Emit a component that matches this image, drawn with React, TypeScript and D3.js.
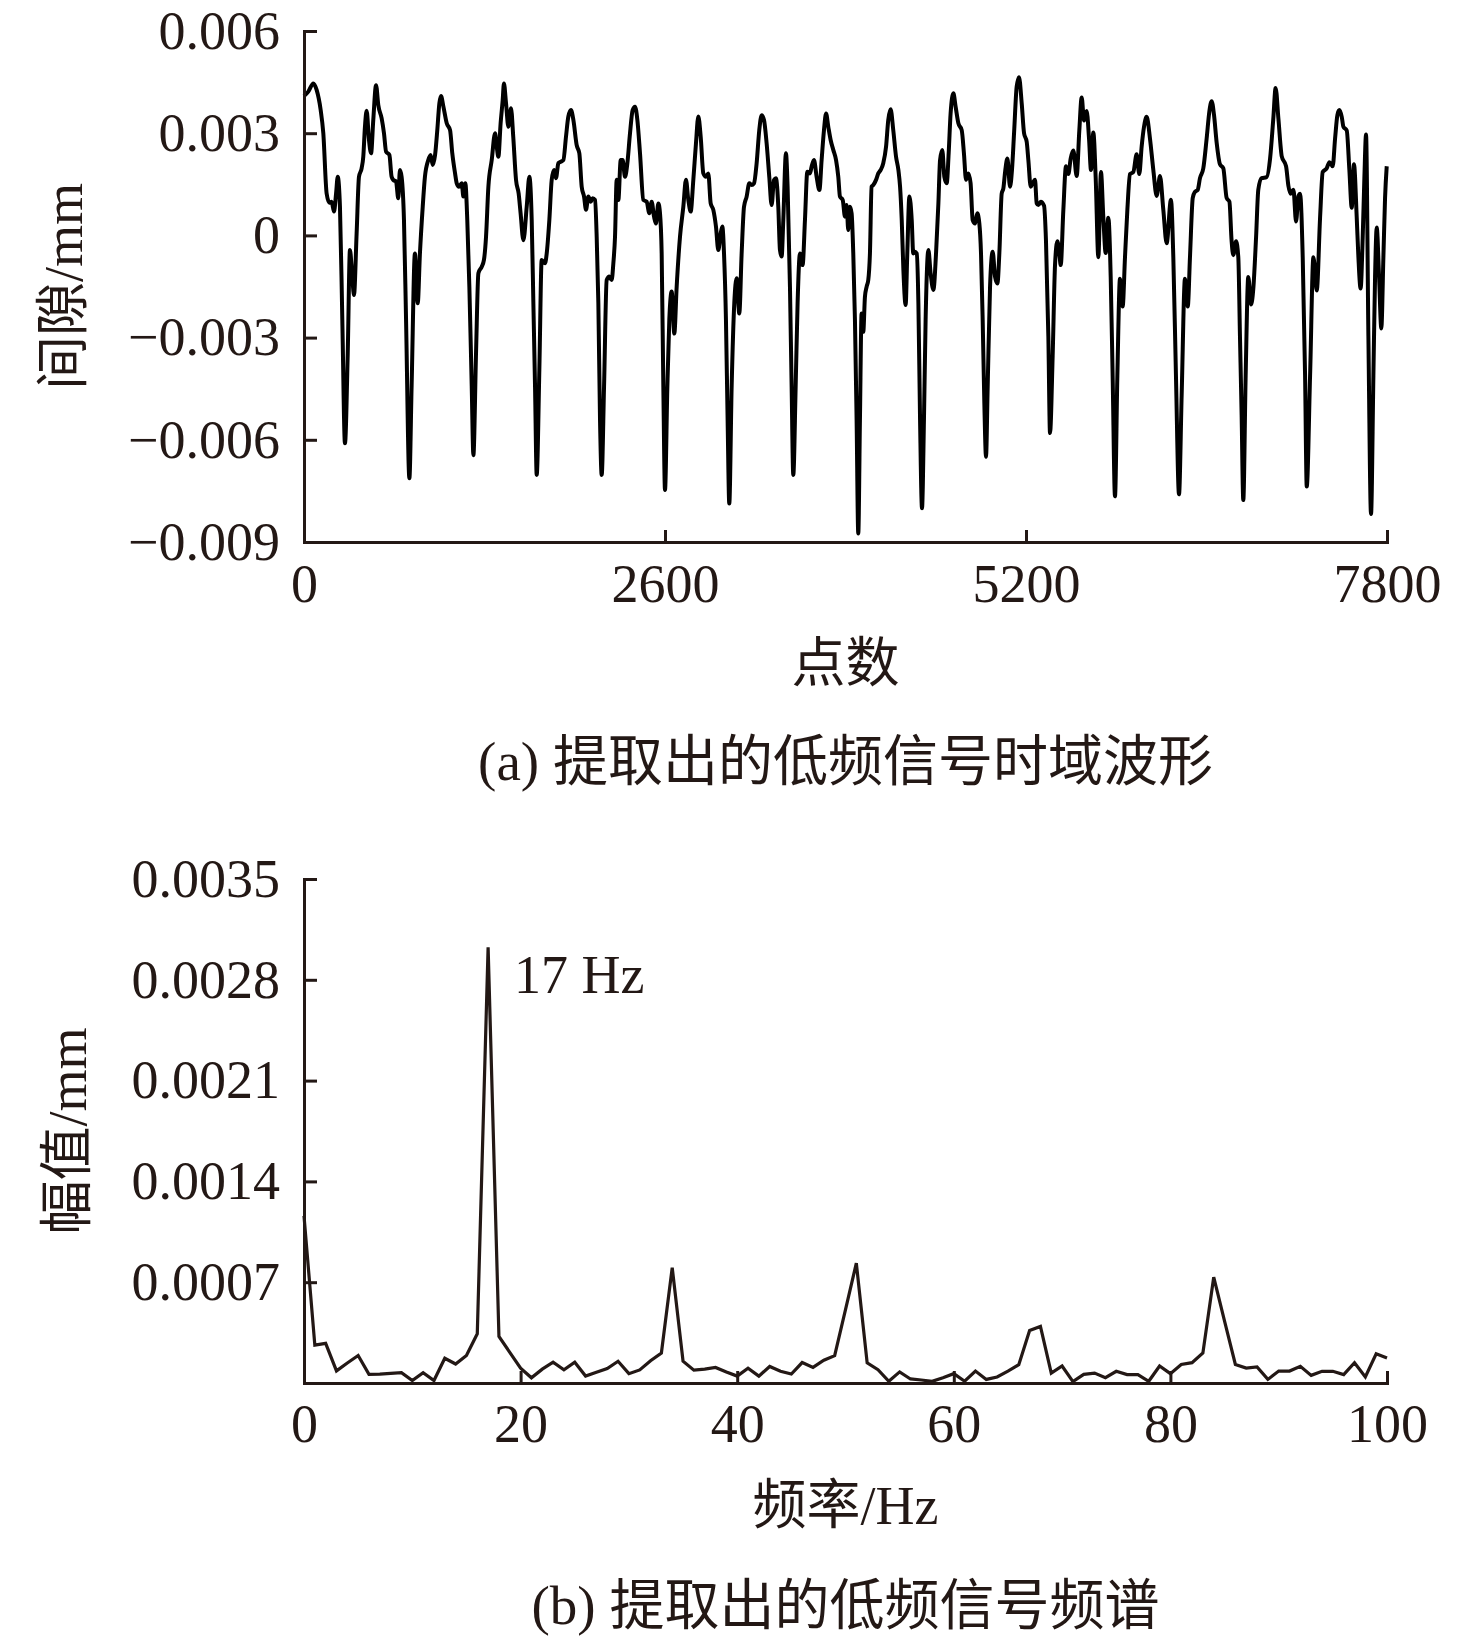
import React, { useEffect, useRef } from "react";
import * as d3 from "d3";

const WIDTH = 1476;
const HEIGHT = 1642;
const INK = "#231815";
const SERIF = '"Liberation Serif", "Times New Roman", "Noto Sans CJK SC", serif';

// (a) extracted low-frequency signal: [sample index, gap in mm]
const gapSeries: [number, number][] = [
  [0, 0.00409], [31, 0.00422], [67, 0.00446], [91, 0.00427], [120, 0.00368], [139, 0.003], [163, 0.00123],
  [183, 0.00096], [199, 0.00099], [216, 0.0007], [231, 0.00123], [243, 0.00172], [259, 0.00084], [276, -0.00248],
  [295, -0.0061], [315, -0.00346], [331, -0.00043], [346, -0.00111], [360, -0.00175], [379, 0.00006], [396, 0.00172],
  [415, 0.00197], [427, 0.00231], [439, 0.00319], [451, 0.00366], [468, 0.0028], [483, 0.00241], [499, 0.00339],
  [519, 0.00441], [535, 0.00383], [559, 0.00344], [576, 0.003], [591, 0.00246], [615, 0.00236], [631, 0.00172],
  [643, 0.00163], [663, 0.00158], [679, 0.00109], [691, 0.00192], [703, 0.00172], [720, 0.00045], [735, -0.00248],
  [759, -0.00713], [775, -0.00444], [799, -0.00053], [819, -0.00199], [835, -0.00053], [855, 0.00084], [871, 0.00172],
  [895, 0.00221], [912, 0.00236], [927, 0.00207], [944, 0.00236], [960, 0.00309], [975, 0.00388], [987, 0.00409],
  [1004, 0.00378], [1028, 0.00329], [1052, 0.00309], [1068, 0.00241], [1088, 0.00182], [1100, 0.00153], [1116, 0.00143],
  [1136, 0.00153], [1148, 0.00114], [1162, 0.00153], [1176, 0.00045], [1191, -0.00151], [1208, -0.00444], [1220, -0.00645],
  [1239, -0.00346], [1256, -0.00111], [1280, -0.00092], [1296, -0.00072], [1311, -0.00004], [1328, 0.00143], [1352, 0.00221],
  [1376, 0.003], [1388, 0.0026], [1400, 0.00231], [1416, 0.00329], [1431, 0.00397], [1440, 0.00446], [1455, 0.00388],
  [1472, 0.00319], [1491, 0.00373], [1507, 0.0029], [1527, 0.00163], [1546, 0.00123], [1560, 0.00065], [1580, -0.00014],
  [1604, 0.00084], [1623, 0.00172], [1640, 0.00045], [1652, -0.00199], [1664, -0.00444], [1676, -0.00703], [1695, -0.00395],
  [1712, -0.00072], [1736, -0.00082], [1748, -0.00053], [1767, 0.00045], [1784, 0.00163], [1801, 0.00192], [1815, 0.00168],
  [1832, 0.00212], [1849, 0.00216], [1868, 0.00221], [1887, 0.0029], [1904, 0.00349], [1923, 0.00368], [1940, 0.00339],
  [1964, 0.00265], [1983, 0.00241], [2000, 0.00143], [2017, 0.00114], [2031, 0.00075], [2048, 0.00114], [2065, 0.00099],
  [2079, 0.00109], [2096, 0.00104], [2108, -0.00004], [2120, -0.00199], [2132, -0.00542], [2144, -0.00703], [2161, -0.00444],
  [2180, -0.00131], [2199, -0.00121], [2216, -0.00131], [2228, -0.00082], [2240, -0.00004], [2252, 0.00163], [2264, 0.00104],
  [2281, 0.00221], [2295, 0.00221], [2312, 0.00172], [2329, 0.00212], [2348, 0.003], [2367, 0.00368], [2384, 0.00378],
  [2401, 0.00339], [2420, 0.00241], [2444, 0.00104], [2468, 0.00099], [2487, 0.00065], [2504, 0.00099], [2521, 0.00055],
  [2535, 0.00035], [2552, 0.00094], [2564, 0.00065], [2576, -0.00053], [2588, -0.00444], [2600, -0.00747], [2617, -0.00444],
  [2631, -0.00248], [2648, -0.00165], [2667, -0.00288], [2684, -0.00151], [2708, -0.00004], [2732, 0.00084], [2751, 0.00163],
  [2768, 0.00104], [2785, 0.0007], [2804, 0.00163], [2823, 0.0027], [2840, 0.00349], [2857, 0.0029], [2876, 0.00182],
  [2895, 0.00172], [2912, 0.00182], [2929, 0.00094], [2948, 0.00075], [2967, 0.00026], [2984, -0.00043], [3001, 0.00006],
  [3013, 0.00026], [3025, -0.00053], [3039, -0.00248], [3051, -0.00542], [3063, -0.00787], [3080, -0.00444], [3099, -0.00199],
  [3116, -0.00126], [3135, -0.00229], [3152, -0.00053], [3169, 0.00084], [3188, 0.00114], [3207, 0.00153], [3224, 0.00148],
  [3241, 0.00153], [3260, 0.00212], [3279, 0.00309], [3296, 0.00353], [3313, 0.00339], [3332, 0.0027], [3351, 0.00172],
  [3368, 0.00089], [3385, 0.00163], [3399, 0.00168], [3416, 0.00084], [3428, -0.00043], [3440, -0.00062], [3452, 0.00045],
  [3471, 0.00241], [3483, 0.00143], [3500, -0.00151], [3512, -0.00444], [3524, -0.00703], [3541, -0.00444], [3555, -0.00199],
  [3572, -0.00053], [3591, -0.00087], [3608, 0.00045], [3625, 0.00187], [3644, 0.00182], [3656, 0.00202], [3673, 0.00221],
  [3692, 0.00172], [3712, 0.00133], [3728, 0.00221], [3745, 0.00309], [3760, 0.00358], [3776, 0.00319], [3793, 0.0028],
  [3812, 0.00251], [3832, 0.00221], [3848, 0.00172], [3860, 0.00114], [3880, 0.00104], [3896, 0.00055], [3908, 0.00089],
  [3920, 0.00016], [3932, 0.00084], [3944, 0.00065], [3956, -0.00053], [3968, -0.00248], [3980, -0.00542], [3992, -0.00875],
  [4004, -0.00542], [4016, -0.00229], [4028, -0.00283], [4040, -0.0018], [4052, -0.00151], [4064, -0.00131], [4076, -0.00053],
  [4088, 0.00143], [4100, 0.00148], [4120, 0.00163], [4136, 0.00182], [4153, 0.00192], [4172, 0.00212], [4192, 0.0026],
  [4208, 0.00339], [4225, 0.0037], [4244, 0.00309], [4264, 0.00231], [4281, 0.00192], [4293, 0.00143], [4305, 0.00045],
  [4317, -0.00102], [4333, -0.00204], [4345, -0.00053], [4360, 0.00114], [4377, 0.00045], [4388, -0.00053], [4400, -0.00048],
  [4413, -0.00053], [4425, -0.00199], [4437, -0.00542], [4451, -0.00801], [4465, -0.00542], [4477, -0.00248], [4497, -0.00043],
  [4513, -0.00111], [4533, -0.0016], [4552, -0.00053], [4569, 0.00094], [4581, 0.00221], [4597, 0.00251], [4612, 0.00172],
  [4629, 0.00153], [4643, 0.00241], [4657, 0.00358], [4677, 0.00417], [4693, 0.00378], [4713, 0.00329], [4737, 0.00309],
  [4753, 0.00241], [4768, 0.00163], [4785, 0.00182], [4801, 0.00153], [4816, 0.00045], [4833, 0.00035], [4849, 0.00065],
  [4864, 0.00035], [4876, -0.00053], [4888, -0.00248], [4900, -0.00493], [4912, -0.0065], [4924, -0.00444], [4941, -0.00151],
  [4960, -0.00048], [4977, -0.00121], [4994, -0.00141], [5008, -0.00053], [5025, 0.00123], [5037, 0.00138], [5051, 0.00192],
  [5066, 0.00226], [5085, 0.00143], [5099, 0.00192], [5114, 0.003], [5133, 0.00437], [5150, 0.00464], [5169, 0.00388],
  [5186, 0.003], [5205, 0.00275], [5217, 0.00221], [5234, 0.00143], [5248, 0.00153], [5265, 0.00163], [5277, 0.00094],
  [5289, 0.00089], [5306, 0.00099], [5330, 0.00087], [5344, -0.00017], [5361, -0.00296], [5373, -0.0058], [5392, -0.00354],
  [5409, -0.00087], [5426, -0.00017], [5440, -0.00052], [5450, -0.00087], [5469, 0.00075], [5488, 0.00203], [5505, 0.0018],
  [5522, 0.00226], [5541, 0.00249], [5565, 0.00174], [5584, 0.00308], [5601, 0.00405], [5618, 0.00337], [5637, 0.00365],
  [5654, 0.00284], [5668, 0.00192], [5685, 0.00302], [5702, 0.00168], [5721, -0.00064], [5740, 0.00186], [5757, 0.00052],
  [5774, -0.00052], [5793, 0.00052], [5810, -0.00122], [5824, -0.00412], [5841, -0.00766], [5858, -0.00412], [5877, -0.00127],
  [5896, -0.00209], [5913, -0.00064], [5930, 0.00075], [5949, 0.0018], [5973, 0.00186], [5997, 0.00238], [6016, 0.0018],
  [6033, 0.00261], [6050, 0.00319], [6069, 0.00348], [6093, 0.00284], [6117, 0.00192], [6141, 0.00116], [6165, 0.00174],
  [6189, 0.00075], [6213, -0.00023], [6244, 0.00105], [6261, -0.00064], [6280, -0.00412], [6302, -0.0076], [6321, -0.0047],
  [6345, -0.00127], [6365, -0.00209], [6381, -0.00064], [6401, 0.0011], [6417, 0.00128], [6437, 0.00134], [6453, 0.00168],
  [6477, 0.00197], [6501, 0.00284], [6521, 0.00365], [6537, 0.00394], [6554, 0.00354], [6573, 0.00273], [6597, 0.00209],
  [6621, 0.00197], [6645, 0.0011], [6665, 0.00099], [6681, -0.00017], [6693, -0.00058], [6713, -0.00017], [6729, -0.00064],
  [6741, -0.00296], [6753, -0.00528], [6765, -0.00777], [6782, -0.00412], [6801, -0.00122], [6821, -0.00203], [6837, -0.00157],
  [6857, -0.00006], [6873, 0.00134], [6897, 0.00168], [6933, 0.00171], [6958, 0.00226], [6981, 0.00342], [6998, 0.00433],
  [7018, 0.00342], [7042, 0.00232], [7073, 0.00203], [7090, 0.00145], [7106, 0.00122], [7126, 0.00134], [7145, 0.00041],
  [7162, 0.00116], [7174, 0.00122], [7193, -0.00064], [7210, -0.00412], [7222, -0.00737], [7246, -0.00412], [7270, -0.00064],
  [7294, -0.00162], [7318, 0.00052], [7337, 0.00186], [7366, 0.00197], [7385, 0.00215], [7409, 0.00203], [7426, 0.00284],
  [7443, 0.00354], [7457, 0.00368], [7474, 0.00348], [7486, 0.00319], [7510, 0.00308], [7529, 0.00192], [7546, 0.00081],
  [7562, 0.00209], [7582, 0.00052], [7594, -0.00064], [7610, -0.00156], [7625, -0.00006], [7637, 0.00168], [7649, 0.00296],
  [7666, -0.00296], [7685, -0.00818], [7702, -0.00412], [7714, -0.00122], [7726, 0.00023], [7743, -0.00122], [7759, -0.00273],
  [7774, -0.00064], [7786, 0.0011], [7798, 0.00203],
];
const gapTicks = [0.006, 0.003, 0, -0.003, -0.006, -0.009];
const gapTickLabels = ["0.006", "0.003", "0", "\u22120.003", "\u22120.006", "\u22120.009"];
const pointTicks = [0, 2600, 5200, 7800];

// (b) spectrum, one amplitude (mm) per 1 Hz bin from 0 to 100 Hz
const spectrumAmp = [
  0.00116, 0.000263, 0.000275, 0.000084, 0.000139, 0.000191, 0.00006, 0.000062, 0.000067, 0.000072,
  0.000017, 0.000072, 0.000017, 0.000172, 0.000132, 0.000191, 0.000342, 0.003026, 0.000323, 0.000213,
  0.000103, 0.000036, 0.000096, 0.000144, 0.000091, 0.000144, 0.000048, 0.000074, 0.0001, 0.000151,
  0.000065, 0.000091, 0.000155, 0.000208, 0.000801, 0.000151, 0.000089, 0.000096, 0.000108, 0.000077,
  0.000048, 0.000103, 0.000048, 0.000115, 0.000082, 0.000062, 0.000142, 0.000108, 0.000158, 0.00019,
  0.00051, 0.000832, 0.00014, 0.000092, 0.000012, 0.000077, 0.000028, 0.000021, 0.000012, 0.000037,
  0.000065, 0.000012, 0.000083, 0.000025, 0.000042, 0.000083, 0.000127, 0.000365, 0.000393, 0.000069,
  0.000118, 0.00001, 0.00006, 0.000069, 0.000037, 0.000081, 0.000058, 0.000058, 0.000012, 0.000118,
  0.000065, 0.000129, 0.000141, 0.000208, 0.000735, 0.00043, 0.000129, 0.000104, 0.000111, 0.000025,
  0.000083, 0.000083, 0.000116, 0.000053, 0.000081, 0.000081, 0.000058, 0.000141, 0.000042, 0.000203,
  0.000173,
];
const ampTicks = [0.0035, 0.0028, 0.0021, 0.0014, 0.0007];
const ampTickLabels = ["0.0035", "0.0028", "0.0021", "0.0014", "0.0007"];
const freqTicks = [0, 20, 40, 60, 80, 100];
const peakLabel = { hz: 17, text: "17 Hz" };

const FONT = 54;

const styleAxis = (g: d3.Selection<SVGGElement, unknown, null, undefined>) => {
  g.attr("font-family", SERIF).attr("font-size", FONT);
  g.select(".domain").attr("stroke", INK).attr("stroke-width", 3).attr("stroke-linecap", "square");
  g.selectAll(".tick line").attr("stroke", INK).attr("stroke-width", 3);
  g.selectAll(".tick text").attr("fill", INK);
};

const App: React.FC = () => {
  const svgRef = useRef<SVGSVGElement>(null);

  useEffect(() => {
    if (!svgRef.current) return;
    const svg = d3.select(svgRef.current);
    svg.selectAll("*").remove();
    svg.append("rect").attr("width", WIDTH).attr("height", HEIGHT).attr("fill", "#fff");

    const left = 304;
    const right = 1387;
    const midX = (left + right) / 2;

    // ---- (a) time-domain waveform ----
    const xA = d3.scaleLinear().domain([0, 7800]).range([left, right]);
    const yA = d3.scaleLinear().domain([-0.009, 0.006]).range([542, 31]);

    const lineA = d3
      .line<[number, number]>()
      .x((d) => xA(d[0]))
      .y((d) => yA(d[1]))
      .curve(d3.curveMonotoneX);

    svg
      .append("path")
      .datum(gapSeries)
      .attr("fill", "none")
      .attr("stroke", "#000")
      .attr("stroke-width", 4)
      .attr("stroke-linejoin", "round")
      .attr("d", lineA);

    svg
      .append("g")
      .attr("transform", `translate(${left},0)`)
      .call(
        d3
          .axisLeft(yA)
          .tickValues(gapTicks)
          .tickFormat((_, i) => gapTickLabels[i])
          .tickSizeInner(-13)
          .tickSizeOuter(0)
          .tickPadding(24)
      )
      .call(styleAxis);

    svg
      .append("g")
      .attr("transform", `translate(0,${yA(-0.009)})`)
      .call(
        d3
          .axisBottom(xA)
          .tickValues(pointTicks)
          .tickFormat(d3.format("d"))
          .tickSizeInner(-12)
          .tickSizeOuter(0)
          .tickPadding(22)
      )
      .call(styleAxis);

    svg
      .append("text")
      .attr("transform", `translate(64,${(yA(0.006) + yA(-0.009)) / 2}) rotate(-90)`)
      .attr("text-anchor", "middle")
      .attr("dominant-baseline", "central")
      .attr("font-family", SERIF)
      .attr("font-size", FONT)
      .attr("fill", INK)
      .text("间隙/mm");

    svg
      .append("text")
      .attr("x", midX)
      .attr("y", 682)
      .attr("text-anchor", "middle")
      .attr("font-family", SERIF)
      .attr("font-size", FONT)
      .attr("fill", INK)
      .text("点数");

    svg
      .append("text")
      .attr("x", midX)
      .attr("y", 780)
      .attr("text-anchor", "middle")
      .attr("font-family", SERIF)
      .attr("font-size", 55)
      .attr("fill", INK)
      .text("(a) 提取出的低频信号时域波形");

    // ---- (b) spectrum ----
    const xB = d3.scaleLinear().domain([0, 100]).range([left, right]);
    const yB = d3.scaleLinear().domain([0, 0.0035]).range([1383, 879]);

    const lineB = d3
      .line<number>()
      .x((_, i) => xB(i))
      .y((d) => yB(d));

    svg
      .append("path")
      .datum(spectrumAmp)
      .attr("fill", "none")
      .attr("stroke", INK)
      .attr("stroke-width", 3.2)
      .attr("stroke-linejoin", "miter")
      .attr("d", lineB);

    svg
      .append("g")
      .attr("transform", `translate(${left},0)`)
      .call(
        d3
          .axisLeft(yB)
          .tickValues(ampTicks)
          .tickFormat((_, i) => ampTickLabels[i])
          .tickSizeInner(-13)
          .tickSizeOuter(0)
          .tickPadding(24)
      )
      .call(styleAxis);

    svg
      .append("g")
      .attr("transform", `translate(0,${yB(0)})`)
      .call(
        d3
          .axisBottom(xB)
          .tickValues(freqTicks)
          .tickFormat(d3.format("d"))
          .tickSizeInner(-12)
          .tickSizeOuter(0)
          .tickPadding(21)
      )
      .call(styleAxis);

    // peak annotation sits just right of the 17 Hz line, level with its top
    svg
      .append("text")
      .attr("x", xB(peakLabel.hz) + 26)
      .attr("y", yB(spectrumAmp[peakLabel.hz]) + 46)
      .attr("font-family", SERIF)
      .attr("font-size", FONT)
      .attr("fill", INK)
      .text(peakLabel.text);

    svg
      .append("text")
      .attr("transform", `translate(68,${(yB(0) + yB(0.0035)) / 2}) rotate(-90)`)
      .attr("text-anchor", "middle")
      .attr("dominant-baseline", "central")
      .attr("font-family", SERIF)
      .attr("font-size", FONT)
      .attr("fill", INK)
      .text("幅值/mm");

    svg
      .append("text")
      .attr("x", midX)
      .attr("y", 1524)
      .attr("text-anchor", "middle")
      .attr("font-family", SERIF)
      .attr("font-size", FONT)
      .attr("fill", INK)
      .text("频率/Hz");

    svg
      .append("text")
      .attr("x", midX)
      .attr("y", 1624)
      .attr("text-anchor", "middle")
      .attr("font-family", SERIF)
      .attr("font-size", 55)
      .attr("fill", INK)
      .text("(b) 提取出的低频信号频谱");
  }, []);

  return (
    <svg
      ref={svgRef}
      width={WIDTH}
      height={HEIGHT}
      style={{ position: "absolute", left: 0, top: 0, display: "block" }}
    />
  );
};

export default App;
